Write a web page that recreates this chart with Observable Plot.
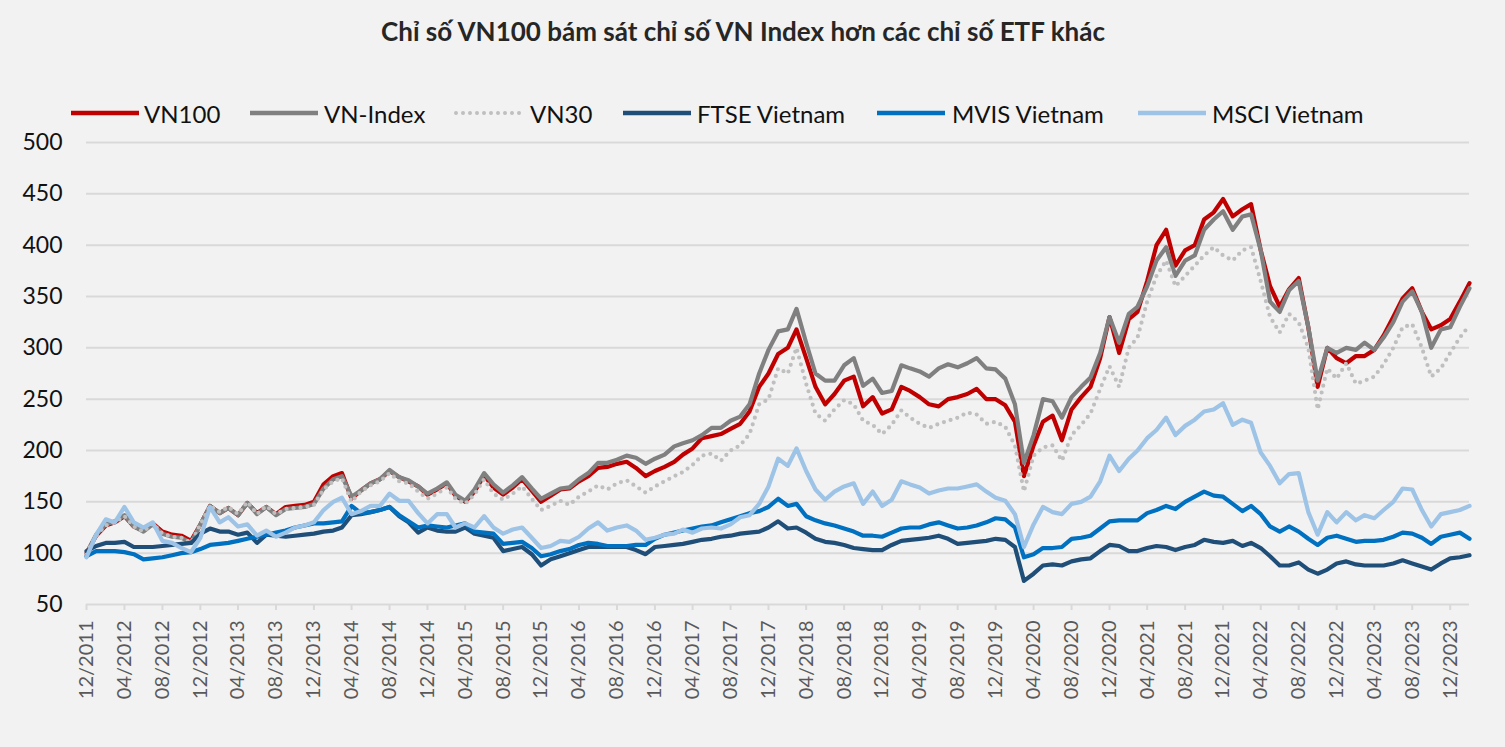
<!DOCTYPE html>
<html>
<head>
<meta charset="utf-8">
<script src="https://cdn.jsdelivr.net/npm/d3@7"></script>
<script src="https://cdn.jsdelivr.net/npm/@observablehq/plot@0.6"></script>
<style>
  html, body { margin: 0; padding: 0; background: #f2f2f2; }
  #wrap { position: relative; width: 1505px; height: 747px; background: #f2f2f2; font-family: Lato, "Open Sans", sans-serif; overflow: hidden; }
  #title { position: absolute; left: 0; top: 15px; width: 1486px; text-align: center; font-weight: 700; font-size: 26px; line-height: 32px; color: #262626; }
  .leg { position: absolute; top: 98px; height: 30px; display: flex; align-items: center; font-size: 24px; color: #111; }
  .leg svg { display: block; }
  #chart { position: absolute; left: 0; top: 130px; }
</style>
</head>
<body>
<div id="wrap">
  <div id="title">Chỉ số VN100 bám sát chỉ số VN Index hơn các chỉ số ETF khác</div>
  <div id="legend"></div>
  <div id="chart"></div>
</div>
<script>
// ---- DATA (monthly, Dec 2011 .. Feb 2024, base 100) ----
const seriesNames = ["VN100", "VN-Index", "VN30", "FTSE Vietnam", "MVIS Vietnam", "MSCI Vietnam"];

const vn100 = [100,117,127,130,136,126,122,129,121,118,117,112,128,146,139,144,137,149,139,145,138,145,146,147,150,167,175,178,153,161,
168,172,180,174,170,165,157,162,168,156,150,160,176,164,157,164,172,161,150,156,162,163,170,175,183,184,187,189,183,175,
180,184,189,196,202,212,214,216,221,226,238,262,275,294,300,318,290,262,245,255,268,272,243,252,236,240,262,258,252,245,
243,250,252,255,260,250,250,244,228,175,205,228,234,210,240,252,262,290,330,295,328,335,365,400,415,380,395,400,425,432,
445,428,435,440,395,360,340,357,368,320,262,300,290,285,292,292,298,312,330,348,358,335,318,322,328,345,363];

const vnIndex = [100,118,128,131,137,126,121,128,119,116,115,110,128,146,139,144,137,149,138,145,137,143,144,145,148,163,172,175,155,161,
168,172,181,174,171,165,158,163,169,157,151,162,178,167,159,166,174,163,153,158,163,164,172,178,188,188,191,195,193,187,
192,196,204,207,210,215,222,222,229,233,245,275,298,316,318,338,305,275,268,268,283,290,263,270,256,258,283,280,277,272,
280,284,281,285,290,280,279,270,245,188,215,250,248,232,252,262,271,295,330,305,333,340,360,385,398,370,385,390,415,425,
433,415,428,430,395,345,335,356,365,320,268,300,295,300,298,305,298,310,325,345,355,335,300,318,320,340,358];

const vn30 = [100,117,127,130,136,126,121,129,119,116,115,110,128,146,140,145,138,150,138,146,138,143,144,145,147,162,170,173,150,160,
166,170,178,170,168,160,153,158,164,153,148,157,172,158,152,158,165,153,142,146,151,147,155,160,166,162,168,171,165,159,
165,170,175,179,186,195,197,190,200,205,216,245,250,280,275,300,265,236,229,240,249,245,229,225,216,225,239,232,226,222,
226,229,232,237,235,226,228,223,205,160,195,203,205,190,215,225,236,260,282,262,300,310,345,370,385,360,370,380,390,398,
390,385,395,398,365,330,315,333,325,300,240,280,270,285,265,268,272,284,300,320,323,300,272,280,295,310,322];

const ftse = [102,107,110,110,111,106,106,106,107,108,109,110,119,124,121,121,118,120,110,118,117,116,117,118,119,121,122,125,137,138,
140,142,145,136,130,120,125,122,121,121,125,119,117,115,102,104,106,99,88,94,97,100,103,106,106,106,106,106,103,99,
106,107,108,109,111,113,114,116,117,119,120,121,125,131,124,125,120,114,111,110,108,105,104,103,103,108,112,113,114,115,
117,114,109,110,111,112,114,113,106,73,80,88,89,88,92,94,95,102,108,107,102,102,105,107,106,103,106,108,113,111,
110,112,107,110,105,97,88,88,91,84,80,84,90,92,89,88,88,88,90,93,90,87,84,90,95,96,98];

const mvis = [97,102,102,102,101,99,94,95,96,98,100,101,104,108,109,110,112,114,116,118,120,122,125,127,129,129,130,131,146,139,
140,142,145,137,131,125,127,126,125,127,129,121,120,119,109,110,111,105,97,99,102,104,108,110,109,107,107,107,108,108,
114,118,120,122,124,126,127,130,133,136,139,141,145,153,146,148,136,132,129,127,124,121,117,117,116,120,124,125,125,128,
130,127,124,125,127,130,134,133,125,96,99,105,105,106,114,115,117,124,131,132,132,132,139,142,146,143,150,155,160,156,
155,148,141,146,138,126,121,126,121,114,108,115,117,114,111,112,112,113,116,120,119,115,109,116,118,120,114];

const msci = [96,118,133,130,145,130,125,130,112,110,105,101,115,145,130,135,126,128,117,122,116,120,125,127,130,142,150,154,138,141,
146,146,158,151,151,139,129,138,138,125,129,125,136,125,119,123,125,115,105,107,112,111,116,124,130,122,125,127,122,113,
115,118,119,123,120,124,125,124,128,135,137,148,165,192,185,202,180,162,152,160,165,168,148,160,146,152,170,167,164,158,
161,163,163,165,167,160,154,151,138,106,128,145,140,138,148,150,155,170,195,180,192,200,212,220,232,215,224,230,238,240,
246,225,230,227,198,185,168,177,178,140,118,140,130,140,132,137,134,142,150,163,162,142,126,138,140,142,146];

const yTicks = [50,100,150,200,250,300,350,400,450,500];
const xTickLabels = ["12/2011","04/2012","08/2012","12/2012","04/2013","08/2013","12/2013","04/2014","08/2014","12/2014",
"04/2015","08/2015","12/2015","04/2016","08/2016","12/2016","04/2017","08/2017","12/2017","04/2018","08/2018","12/2018",
"04/2019","08/2019","12/2019","04/2020","08/2020","12/2020","04/2021","08/2021","12/2021","04/2022","08/2022","12/2022",
"04/2023","08/2023","12/2023"];

const colors = {"VN100":"#c00000","VN-Index":"#808080","VN30":"#bfbfbf","FTSE Vietnam":"#1f4e79","MVIS Vietnam":"#0070c0","MSCI Vietnam":"#9dc3e6"};
const valuesBySeries = {"VN100":vn100,"VN-Index":vnIndex,"VN30":vn30,"FTSE Vietnam":ftse,"MVIS Vietnam":mvis,"MSCI Vietnam":msci};

// ---- build table ----
const start = new Date(Date.UTC(2011, 11, 1));
const dates = d3.utcMonths(start, new Date(Date.UTC(2024, 2, 1)));
const rows = seriesNames.flatMap(s => valuesBySeries[s].map((v, i) => ({series: s, date: dates[i], value: v})));
const parseTick = d3.utcParse("%m/%Y");
const tickDates = xTickLabels.map(parseTick);

// ---- legend ----
const legendPos = [[69,144],[248,324],[454,530],[621,697],[875,952],[1136,1212]];
const legend = document.getElementById("legend");
seriesNames.forEach((s, i) => {
  const [lx, tx] = legendPos[i];
  const sw = document.createElement("div");
  sw.className = "leg";
  sw.style.left = lx + "px";
  const dashed = s === "VN30";
  sw.innerHTML = `<svg width="72" height="30"><line x1="2" x2="70" y1="15" y2="15" stroke="${colors[s]}" stroke-width="${dashed ? 4 : 4.5}" ${dashed ? 'stroke-dasharray="0 7" stroke-linecap="round"' : ''}/></svg>`;
  legend.appendChild(sw);
  const t = document.createElement("div");
  t.className = "leg";
  t.style.left = tx + "px";
  t.textContent = s;
  legend.appendChild(t);
});

// ---- chart ----
const lineMark = (s) => Plot.line(rows.filter(d => d.series === s), {
  x: "date", y: "value", stroke: colors[s],
  strokeWidth: 4.2,
  strokeLinejoin: "round",
  strokeLinecap: "round",
  strokeDasharray: s === "VN30" ? "0 7" : null,
  curve: "linear"
});

const chart = Plot.plot({
  width: 1505,
  height: 617,
  marginTop: 12,
  marginLeft: 86,
  marginRight: 36,
  marginBottom: 143,
  style: {background: "transparent", fontFamily: "Lato, 'Open Sans', sans-serif", overflow: "visible"},
  x: {type: "utc", domain: [start, new Date(Date.UTC(2024, 1, 1))]},
  y: {domain: [50, 500]},
  marks: [
    Plot.ruleY(yTicks, {stroke: "#d9d9d9", strokeWidth: 2}),
    Plot.axisY({ticks: yTicks, tickSize: 0, tickPadding: 24, fontSize: 23, fill: "#111", label: null}),
    Plot.axisX({ticks: tickDates, tickFormat: d3.utcFormat("%m/%Y"), tickRotate: -90, tickSize: 6, tickPadding: 10,
                fontSize: 20, stroke: "#d9d9d9", strokeWidth: 2, fill: "#595959", label: null}),
    ...seriesNames.map(lineMark)
  ]
});
document.getElementById("chart").appendChild(chart);
</script>
</body>
</html>
